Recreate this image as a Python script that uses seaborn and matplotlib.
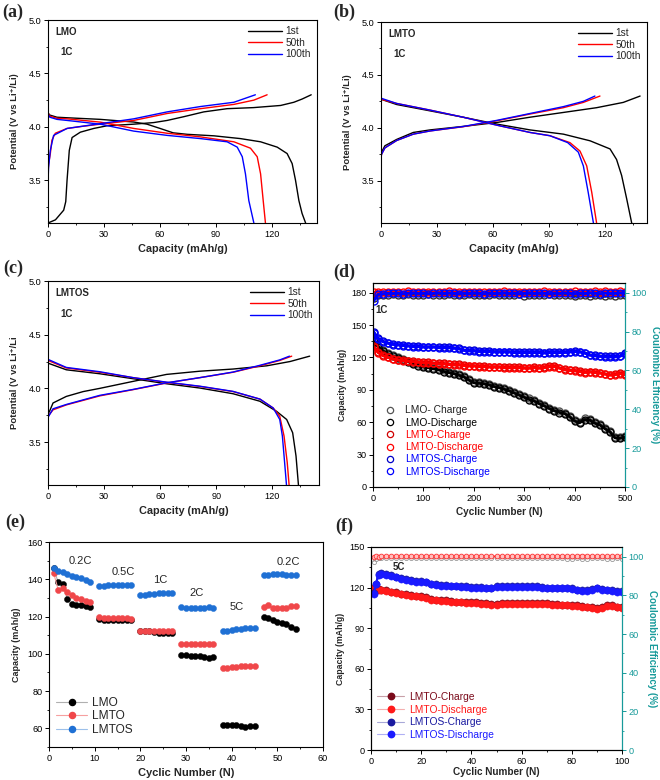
import numpy as np
import pandas as pd
import matplotlib
matplotlib.use("Agg")
import matplotlib.pyplot as plt
from matplotlib.ticker import MultipleLocator
from matplotlib.lines import Line2D
import seaborn as sns

# ---------------- DATA ----------------
# Panel (a) LMO charge/discharge curves (capacity mAh/g, potential V)
a1_chg_x = [0, 4, 8.4, 9.5, 10.2, 11.4, 12.9, 17.3, 24.5, 31.6, 45.9, 56.6, 63.8, 72.7, 83.4, 95.9, 110, 124.5, 131.6, 136, 140.9]
a1_chg_y = [3.10, 3.13, 3.22, 3.30, 3.50, 3.78, 3.90, 3.95, 3.985, 4.01, 4.025, 4.04, 4.06, 4.095, 4.14, 4.17, 4.18, 4.20, 4.23, 4.26, 4.30]
a1_dis_x = [0, 1, 4.8, 10.2, 28, 45.9, 53, 60, 67, 74.5, 88.8, 103, 113.8, 122.7, 128, 130.7, 132.5, 134.3, 136, 137.9]
a1_dis_y = [4.13, 4.11, 4.09, 4.085, 4.07, 4.045, 4.025, 3.985, 3.944, 3.93, 3.916, 3.89, 3.86, 3.81, 3.75, 3.656, 3.50, 3.31, 3.19, 3.10]
a50_chg_x = [0, 0.3, 1.25, 2.1, 3.9, 10.2, 19, 28, 45.9, 63.8, 81.6, 99.5, 110.2, 117.3]
a50_chg_y = [3.55, 3.65, 3.75, 3.875, 3.94, 3.985, 4.006, 4.025, 4.06, 4.125, 4.17, 4.21, 4.25, 4.30]
a50_dis_x = [0, 1, 4.8, 10.2, 28, 45.9, 63.8, 81.6, 99.5, 108.4, 112, 113.8, 115.2, 116.4]
a50_dis_y = [4.13, 4.10, 4.08, 4.075, 4.044, 3.985, 3.94, 3.906, 3.86, 3.80, 3.72, 3.56, 3.31, 3.10]
a100_chg_x = [0, 0.3, 1.25, 3, 10.2, 28, 45.9, 63.8, 81.6, 99.5, 111]
a100_chg_y = [3.48, 3.62, 3.78, 3.92, 3.985, 4.03, 4.075, 4.14, 4.19, 4.23, 4.30]
a100_dis_x = [0, 1, 4.8, 10.2, 28, 45.9, 63.8, 81.6, 95.9, 101.3, 104, 105.7, 107.5, 110.2]
a100_dis_y = [4.12, 4.09, 4.07, 4.06, 4.025, 3.96, 3.92, 3.89, 3.86, 3.81, 3.72, 3.56, 3.31, 3.10]

# Panel (b) LMTO
b1_chg_x = [0, 0.3, 2.1, 8.4, 17.3, 26.3, 44, 62, 79.8, 97.7, 115.5, 129.8, 138.8]
b1_chg_y = [3.74, 3.77, 3.83, 3.89, 3.956, 3.98, 4.013, 4.05, 4.10, 4.145, 4.19, 4.24, 4.30]
b1_dis_x = [0, 8.4, 26.3, 44, 62, 79.8, 97.7, 112, 122.7, 126.2, 128.9, 131.6, 134.3]
b1_dis_y = [4.27, 4.22, 4.16, 4.10, 4.035, 3.98, 3.94, 3.877, 3.80, 3.70, 3.55, 3.33, 3.10]
b50_chg_x = [0, 0.3, 2.1, 8.4, 17.3, 26.3, 44, 62, 79.8, 97.7, 108.4, 117.3]
b50_chg_y = [3.72, 3.75, 3.81, 3.88, 3.94, 3.97, 4.01, 4.066, 4.13, 4.19, 4.24, 4.30]
b50_dis_x = [0, 8.4, 26.3, 44, 62, 79.8, 90.5, 101.2, 106.6, 110.2, 112.9, 115.5]
b50_dis_y = [4.27, 4.23, 4.167, 4.10, 4.025, 3.956, 3.925, 3.86, 3.78, 3.64, 3.39, 3.10]
b100_chg_x = [0, 0.3, 2.1, 8.4, 17.3, 26.3, 44, 62, 79.8, 97.7, 108.4, 114.6]
b100_chg_y = [3.72, 3.75, 3.81, 3.88, 3.94, 3.97, 4.012, 4.07, 4.135, 4.20, 4.25, 4.30]
b100_dis_x = [0, 8.4, 26.3, 44, 62, 79.8, 90.5, 100, 105.7, 108.4, 111, 113.8]
b100_dis_y = [4.28, 4.23, 4.167, 4.10, 4.025, 3.956, 3.925, 3.86, 3.77, 3.64, 3.39, 3.10]

# Panel (c) LMTOS
c1_chg_x = [0, 0.9, 2.7, 9.8, 18.8, 27.7, 45.5, 63.4, 81.3, 99, 117, 129.5, 140]
c1_chg_y = [3.76, 3.79, 3.864, 3.925, 3.97, 4.00, 4.065, 4.13, 4.16, 4.18, 4.21, 4.25, 4.30]
c1_dis_x = [0, 9.8, 27.7, 45.5, 63.4, 81.3, 99, 113.4, 122.3, 127.7, 130.9, 132.7, 134]
c1_dis_y = [4.235, 4.173, 4.136, 4.09, 4.043, 4.003, 3.95, 3.88, 3.786, 3.71, 3.587, 3.37, 3.10]
c50_chg_x = [0, 2.7, 9.8, 27.7, 45.5, 63.4, 81.3, 99, 113.4, 124, 130.4]
c50_chg_y = [3.74, 3.80, 3.846, 3.93, 3.988, 4.05, 4.10, 4.15, 4.21, 4.26, 4.30]
c50_dis_x = [0, 9.8, 27.7, 45.5, 63.4, 81.3, 99, 113.4, 120.5, 124, 126.3, 128, 129]
c50_dis_y = [4.26, 4.19, 4.15, 4.10, 4.056, 4.018, 3.97, 3.90, 3.817, 3.74, 3.556, 3.31, 3.10]
c100_chg_x = [0, 2.7, 9.8, 27.7, 45.5, 63.4, 81.3, 99, 113.4, 124, 129.2]
c100_chg_y = [3.73, 3.81, 3.85, 3.935, 3.99, 4.052, 4.10, 4.152, 4.215, 4.265, 4.30]
c100_dis_x = [0, 9.8, 27.7, 45.5, 63.4, 81.3, 99, 113.4, 120.5, 124, 125.4, 126.6, 127.6]
c100_dis_y = [4.27, 4.195, 4.155, 4.10, 4.058, 4.02, 3.972, 3.90, 3.817, 3.71, 3.556, 3.31, 3.10]

cycle_labels = ["1st", "50th", "100th"]

# Panel (d) long cycling at 1C (sampled cycles)
d_cycles = [1, 10, 20, 30, 40, 50, 60, 70, 80, 90,
            100, 110, 120, 130, 140, 150, 160, 170, 180, 190,
            200, 210, 220, 230, 240, 250, 260, 270, 280, 290,
            300, 310, 320, 330, 340, 350, 360, 370, 380, 390,
            400, 410, 420, 430, 440, 450, 460, 470, 480, 490, 500]
d_lmo_chg = [136, 131, 127, 124, 122, 120.5, 119, 117, 115, 113.5,
             112, 111.5, 110.5, 109.5, 108, 107, 106, 104.5, 103, 100,
             97.5, 97, 96.5, 95.5, 94, 93, 91.5, 90, 88, 86,
             84, 82, 80.5, 78, 76, 73.5, 71.5, 70, 69, 66,
             62, 60.5, 63.5, 63, 60, 58.5, 55, 52, 46.5, 46, 47]
d_lmo_dis = [135, 130, 126, 123, 121, 119.5, 118, 116, 114, 112.5,
             111, 110.5, 109.5, 108.5, 107, 106, 105, 103.5, 102, 99,
             96.5, 96, 95.5, 94.5, 93, 92, 90.5, 89, 87, 85,
             83, 81, 79.5, 77, 75, 72.5, 70.5, 69, 68, 65,
             61, 59.5, 62.5, 62, 59, 57.5, 54, 51, 45.5, 45, 46]
d_lmto_chg = [131, 125, 122, 120.5, 119, 118, 117.5, 117, 116.5, 116,
              115.5, 115.5, 115, 114.5, 114.5, 114, 113.5, 113.5, 113, 112.5,
              112.5, 112, 112, 111.5, 111.5, 111.5, 111, 111, 111, 111,
              110.5, 110.5, 111, 110.5, 111, 112, 112, 110.5, 109, 108.5,
              108, 107.5, 106.5, 107, 106.5, 106, 105, 104, 104.5, 105.5, 105]
d_lmto_dis = [130, 124.5, 121.5, 120, 118.5, 117.5, 117, 116.5, 116, 115.5,
              115, 115, 114.5, 114, 114, 113.5, 113, 113, 112.5, 112,
              112, 111.5, 111.5, 111, 111, 111, 110.5, 110.5, 110.5, 110.5,
              110, 110, 110.5, 110, 110.5, 111.5, 111.5, 110, 108.5, 108,
              107.5, 107, 106, 106.5, 106, 105.5, 104.5, 103.5, 104, 105, 104]
d_lmtos_chg = [144, 138, 135, 133.5, 132.5, 132, 131.5, 131, 130.5, 130.5,
               130, 130, 130, 129.5, 129.5, 129.5, 129, 128.5, 127, 126.5,
               126.5, 126, 126, 126, 125.5, 125.5, 125.5, 125.5, 125, 125,
               125, 125, 125, 125, 124.5, 125, 125, 125, 125, 125.5,
               126, 125.5, 124.5, 122.5, 122, 121.5, 121, 121, 121, 121.5, 124]
d_lmtos_dis = [143, 137, 134.5, 133, 132, 131.5, 131, 130.5, 130, 130,
               129.5, 129.5, 129.5, 129, 129, 129, 128.5, 128, 126.5, 126,
               126, 125.5, 125.5, 125.5, 125, 125, 125, 125, 124.5, 124.5,
               124.5, 124.5, 124.5, 124.5, 124, 124.5, 124.5, 124.5, 124.5, 125,
               125.5, 125, 124, 122, 121.5, 121, 120.5, 120.5, 120.5, 121, 123.5]
d_lmo_eff = [97.5, 98.6, 99.0, 98.8, 99.2, 99.0, 98.7, 99.1, 98.9, 99.0,
             98.8, 99.2, 98.6, 99.0, 98.9, 99.1, 98.7, 99.0, 98.8, 99.2,
             98.9, 98.6, 99.0, 98.8, 99.1, 98.9, 98.7, 99.0, 98.8, 99.1,
             98.5, 98.9, 99.0, 98.7, 98.9, 99.1, 98.6, 98.9, 98.8, 99.0,
             98.4, 98.9, 98.7, 98.3, 98.8, 98.6, 98.2, 98.7, 98.5, 98.9, 98.6]
d_lmto_eff = [100.2, 100.4, 100.5, 100.3, 100.6, 100.4, 100.3, 100.7, 100.4, 100.5,
              100.3, 100.6, 100.4, 100.2, 100.5, 100.7, 100.3, 100.5, 100.4, 100.6,
              100.3, 100.5, 100.2, 100.6, 100.4, 100.5, 100.7, 100.3, 100.5, 100.4,
              100.6, 100.3, 100.5, 100.4, 100.7, 100.3, 100.5, 100.6, 100.4, 100.5,
              100.8, 100.4, 100.6, 100.3, 100.7, 100.5, 100.9, 100.4, 100.6, 100.7, 100.5]
d_lmtos_eff = [95.5, 99.2, 99.5, 99.7, 99.6, 99.8, 99.5, 99.7, 99.9, 99.6,
               99.8, 99.5, 99.7, 99.9, 99.6, 99.8, 99.7, 99.5, 99.8, 99.6,
               99.9, 99.7, 99.5, 99.8, 99.6, 99.7, 99.9, 99.6, 99.8, 99.5,
               99.7, 99.9, 99.6, 99.8, 99.7, 99.5, 99.8, 99.6, 99.9, 99.7,
               99.5, 99.8, 99.6, 99.9, 99.7, 99.5, 99.8, 99.6, 99.7, 99.9, 100.0]
d_labels = ["LMO- Charge", "LMO-Discharge", "LMTO-Charge", "LMTO-Discharge",
            "LMTOS-Charge", "LMTOS-Discharge"]

# Panel (e) rate capability
e_rates = ["0.2C", "0.5C", "1C", "2C", "5C", "0.2C"]
e_cycles = [1, 2, 3, 4, 5, 6, 7, 8, 9,
            11, 12, 13, 14, 15, 16, 17, 18,
            20, 21, 22, 23, 24, 25, 26, 27,
            29, 30, 31, 32, 33, 34, 35, 36,
            38, 39, 40, 41, 42, 43, 44, 45,
            47, 48, 49, 50, 51, 52, 53, 54]
e_step = [0] * 9 + [1] * 8 + [2] * 8 + [3] * 8 + [4] * 8 + [5] * 8
e_lmo = [146, 138.5, 137.5, 129.5, 126.5, 126, 126, 125.5, 125,
         118.5, 118.3, 118.3, 118.2, 118.2, 118.2, 118.1, 118,
         112, 112, 112, 111.5, 111, 111, 111, 111.3,
         99.6, 99.3, 99, 98.8, 98.6, 98.4, 98, 98.2,
         62, 61.8, 61.7, 61.6, 61.4, 61, 61.2, 61.1,
         120, 119.3, 118.2, 117.3, 116.6, 116, 114.5, 113.5]
e_lmto = [143.5, 134.5, 135.5, 133, 131.5, 130, 129.5, 128.5, 128,
          119.5, 119.2, 119, 119, 119, 119.2, 119, 118.7,
          112.3, 112.3, 112.5, 112.5, 112.5, 112.3, 112.5, 112.5,
          105.3, 105.3, 105.3, 105.3, 105.3, 105.3, 105.3, 105.3,
          92.3, 92.5, 92.8, 93, 93.2, 93.4, 93.5, 93.6,
          125.2, 126, 124.8, 124.5, 124.5, 124.5, 125.5, 125.8]
e_lmtos = [146, 144.5, 144, 143, 142, 141, 140.5, 139.5, 138.3,
           136.5, 136.5, 136.7, 136.8, 136.8, 137, 136.8, 136.8,
           131.6, 131.8, 132, 132.3, 132.6, 132.8, 132.8, 132.8,
           125, 124.8, 124.6, 124.5, 124.5, 124.7, 125.2, 124.6,
           112.2, 112.5, 113, 113.2, 113.4, 113.6, 113.8, 113.7,
           142.5, 142.5, 142.6, 143, 142.6, 142.5, 142.5, 142.5]
e_labels = ["LMO", "LMTO", "LMTOS"]

# Panel (f) long cycling at 5C
f_cycles = [1, 2, 3, 4,
            6, 8, 10, 12, 14, 16, 18, 20, 22, 24,
            26, 28, 30, 32, 34, 36, 38, 40, 42, 44,
            46, 48, 50, 52, 54, 56, 58, 60, 62, 64,
            66, 68, 70, 72, 74, 76, 78, 80, 82, 84,
            86, 88, 90, 92, 94, 96, 98, 100]
f_lmto_chg = [120, 119.5, 119, 118.5,
              118, 117, 116.5, 115.5, 115, 114.5, 114, 113.5, 113, 111.5,
              111, 110.5, 110.5, 110, 109.5, 109.5, 109, 109, 109, 108.5,
              108.5, 108, 108, 108.5, 108.5, 108.5, 108.5, 108.5, 108.5, 108.5,
              108.5, 108.5, 108.5, 108, 108, 107.5, 107.5, 107, 107, 106.5,
              106, 105.5, 105, 105.5, 107, 107, 106, 105.5]
f_lmto_dis = [119.5, 119, 118.5, 118,
              117.5, 116.5, 116, 115, 114.5, 114, 113.5, 113, 112.5, 111,
              110.5, 110, 110, 109.5, 109, 109, 108.5, 108.5, 108.5, 108,
              108, 107.5, 107.5, 108, 108, 108, 108, 108, 108, 108,
              108, 108, 108, 107.5, 107.5, 107, 107, 106.5, 106.5, 106,
              105.5, 105, 104.5, 105, 106.5, 106.5, 105.5, 105]
f_lmtos_chg = [116, 123, 130, 130.5,
               130, 129, 128, 127, 126, 125.5, 125, 125, 124.5, 123,
               122.5, 122, 122, 121.5, 121.5, 121, 121, 120.5, 120.5, 120.5,
               120, 120, 121, 121, 121, 121, 121, 121, 121, 121,
               121, 120.5, 120, 120, 120, 120, 120, 119.5, 118.5, 118,
               118, 119, 120, 119, 118.5, 118, 117.5, 117.5]
f_lmtos_dis = [115, 122.5, 129.5, 130,
               129.5, 128.5, 127.5, 126.5, 125.5, 125, 124.5, 124.5, 124, 122.5,
               122, 121.5, 121.5, 121, 121, 120.5, 120.5, 120, 120, 120,
               119.5, 119.5, 120.5, 120.5, 120.5, 120.5, 120.5, 120.5, 120.5, 120.5,
               120.5, 120, 119.5, 119.5, 119.5, 119.5, 119.5, 119, 118, 117.5,
               117.5, 118.5, 119.5, 118.5, 118, 117.5, 117, 117]
f_lmto_eff = [99.8, 100.3, 100.0, 100.2,
              100.3, 100.1, 100.2, 100.4, 100.2, 100.3, 100.1, 100.2, 100.4, 100.2,
              100.3, 100.1, 100.2, 100.3, 100.2, 100.4, 100.1, 100.3, 100.2, 100.2,
              100.3, 100.1, 100.2, 100.4, 100.2, 100.3, 100.2, 100.1, 100.3, 100.2,
              100.4, 100.2, 100.3, 100.1, 100.2, 100.5, 100.3, 100.2, 100.4, 100.6,
              100.5, 100.3, 100.2, 100.3, 100.1, 100.2, 100.3, 100.2]
f_lmtos_eff = [97.5, 98.8, 99.2, 99.4,
               99.3, 99.5, 99.2, 99.4, 99.3, 99.1, 99.4, 99.3, 99.5, 99.2,
               99.4, 99.3, 99.1, 99.4, 99.3, 99.5, 99.2, 99.3, 99.4, 99.2,
               99.3, 99.5, 99.2, 99.4, 99.3, 99.1, 99.4, 99.3, 99.2, 99.5,
               99.3, 99.4, 99.2, 99.3, 99.5, 99.2, 99.0, 98.9, 99.1, 98.8,
               99.0, 99.2, 99.1, 99.3, 99.0, 98.9, 99.1, 99.0]
f_labels = ["LMTO-Charge", "LMTO-Discharge", "LMTOS-Charge", "LMTOS-Discharge"]

# ---------------- STYLE ----------------
sns.set_theme(style="ticks", rc={
    "axes.edgecolor": "black", "axes.linewidth": 0.8,
    "xtick.color": "black", "ytick.color": "black",
    "axes.facecolor": "white", "figure.facecolor": "white",
})
plt.rcParams["font.family"] = ["Liberation Sans", "DejaVu Sans"]

TEAL = "#179a9a"
W, H = 660, 780
fig = plt.figure(figsize=(6.6, 7.8), dpi=100)


def box(l, t, r, b):
    return [l / W, 1 - b / H, (r - l) / W, (b - t) / H]


def style_ticks(ax, labelsize=6.6):
    ax.tick_params(axis="both", which="major", direction="out", length=2.8, width=0.7,
                   labelsize=labelsize, pad=2, top=False, right=False)
    ax.tick_params(axis="both", which="minor", direction="out", length=1.6, width=0.6,
                   top=False, right=False)


def volt_panel(ax, curves, xmax, name, ylabel, leg_anchor):
    colors = ["black", "#ff0000", "#0000ff"]
    for lab, col, (cx, cy, dx, dy) in zip(cycle_labels, colors, curves):
        sns.lineplot(x=cx, y=cy, sort=False, estimator=None, color=col, lw=1.0, ax=ax, label=lab)
        sns.lineplot(x=dx, y=dy, sort=False, estimator=None, color=col, lw=1.0, ax=ax)
    ax.set_xlim(0, xmax)
    ax.set_ylim(3.1, 5.0)
    ax.xaxis.set_major_locator(MultipleLocator(30))
    ax.xaxis.set_minor_locator(MultipleLocator(15))
    ax.yaxis.set_major_locator(MultipleLocator(0.5))
    ax.yaxis.set_minor_locator(MultipleLocator(0.25))
    ax.set_yticks([3.5, 4.0, 4.5, 5.0])
    style_ticks(ax)
    ax.set_xlabel("Capacity (mAh/g)", fontsize=7.8, fontweight="bold", labelpad=4)
    ax.set_ylabel(ylabel, fontsize=6.8, fontweight="bold", labelpad=7)
    ax.text(0.027, 0.94, name, transform=ax.transAxes, fontsize=7, fontweight="bold",
            va="center", ha="left")
    ax.text(0.045, 0.84, "1C", transform=ax.transAxes, fontsize=7, fontweight="bold",
            va="center", ha="left")
    ax.legend(loc="upper right", bbox_to_anchor=leg_anchor, frameon=False, fontsize=7.3,
              handlelength=3.4, handletextpad=0.3, labelspacing=0.15, borderaxespad=0.2)


# (a)
axa = fig.add_axes(box(48, 20, 317, 223))
volt_panel(axa, [(a1_chg_x, a1_chg_y, a1_dis_x, a1_dis_y),
                 (a50_chg_x, a50_chg_y, a50_dis_x, a50_dis_y),
                 (a100_chg_x, a100_chg_y, a100_dis_x, a100_dis_y)],
           144, "LMO", "Potential (V vs Li⁺/Li)", (1.0, 1.0))
# (b)
axb = fig.add_axes(box(381, 22, 647, 223))
volt_panel(axb, [(b1_chg_x, b1_chg_y, b1_dis_x, b1_dis_y),
                 (b50_chg_x, b50_chg_y, b50_dis_x, b50_dis_y),
                 (b100_chg_x, b100_chg_y, b100_dis_x, b100_dis_y)],
           142.5, "LMTO", "Potential (V vs Li⁺/Li)", (1.0, 1.0))
# (c)
axc = fig.add_axes(box(48, 281, 319, 485))
volt_panel(axc, [(c1_chg_x, c1_chg_y, c1_dis_x, c1_dis_y),
                 (c50_chg_x, c50_chg_y, c50_dis_x, c50_dis_y),
                 (c100_chg_x, c100_chg_y, c100_dis_x, c100_dis_y)],
           145, "LMTOS", "Potential (V vs Li⁺/Li", (1.0, 1.0))

# (d)
axd = fig.add_axes(box(373, 283, 625, 487))
axd2 = axd.twinx()
d_cols = ["#555555", "black", "#d00000", "#ff0000", "#0000c8", "#0000ff"]
d_series = [d_lmo_chg, d_lmo_dis, d_lmto_chg, d_lmto_dis, d_lmtos_chg, d_lmtos_dis]
for ys, col in zip(d_series, d_cols):
    sns.lineplot(x=d_cycles, y=ys, sort=False, estimator=None, ax=axd, lw=2.0, color=col,
                 marker="o", ms=5.0, mfc="none", mec=col, mew=1.0, legend=False)
for ys, col in zip([d_lmo_eff, d_lmto_eff, d_lmtos_eff], ["#333333", "#ff0000", "#0000ff"]):
    sns.lineplot(x=d_cycles, y=ys, sort=False, estimator=None, ax=axd2, lw=2.0, color=col,
                 marker="o", ms=5.0, mfc="none", mec=col, mew=1.0, legend=False)
axd.set_xlim(0, 500)
axd.set_ylim(0, 189)
axd2.set_ylim(0, 105)
axd.xaxis.set_major_locator(MultipleLocator(100))
axd.xaxis.set_minor_locator(MultipleLocator(50))
axd.yaxis.set_major_locator(MultipleLocator(30))
axd.yaxis.set_minor_locator(MultipleLocator(15))
axd2.yaxis.set_major_locator(MultipleLocator(20))
axd2.yaxis.set_minor_locator(MultipleLocator(10))
style_ticks(axd)
axd2.tick_params(axis="y", which="major", direction="out", length=2.8, width=0.7,
                 labelsize=6.6, pad=2, colors=TEAL)
axd2.tick_params(axis="y", which="minor", direction="out", length=1.6, width=0.6, colors=TEAL)
axd2.spines["right"].set_color(TEAL)
axd.spines["right"].set_color(TEAL)
axd.set_xlabel("Cyclic Number (N)", fontsize=7.2, fontweight="bold", labelpad=3)
axd.set_ylabel("Capacity (mAh/g)", fontsize=6.3, fontweight="bold", labelpad=3)
axd2.set_ylabel("Coulombic Efficiency (%)", fontsize=7, fontweight="bold", color=TEAL,
                rotation=270, labelpad=9)
axd.text(5, 164, "1C", fontsize=7, fontweight="bold", va="center", ha="left")
d_handles = [Line2D([], [], linestyle="", marker="o", ms=4.5, mfc="none", mec=c, mew=0.9)
             for c in d_cols]
d_text_cols = ["#222222", "black", "#ff0000", "#ff0000", "#0000ff", "#0000ff"]
axd.legend(d_handles, d_labels, loc="lower left", bbox_to_anchor=(0.02, 0.02), frameon=False,
           fontsize=7.4, labelcolor=d_text_cols, handletextpad=0.8, labelspacing=0.22,
           borderaxespad=0.2, handlelength=1.2)

# (e)
axe = fig.add_axes(box(49, 542, 323, 747))
e_cols = ["black", "#f0474a", "#1f70d4"]
e_light = ["#b0b0b0", "#f6a0a0", "#9cc0ea"]
for ys, col, lcol in zip([e_lmo, e_lmto, e_lmtos], e_cols, e_light):
    df = pd.DataFrame({"cycle": e_cycles, "cap": ys, "step": e_step})
    sns.lineplot(data=df, x="cycle", y="cap", units="step", estimator=None, sort=False, ax=axe,
                 color=lcol, lw=0.8, marker="o", ms=4.4, mfc=col, mec=col, mew=0.3, legend=False)
rate_pos = [(6.8, 150), (16.3, 143.8), (24.3, 139.7), (32.3, 132.8), (41.1, 125), (52.5, 149.4)]
for txt, (xx, yy) in zip(e_rates, rate_pos):
    axe.text(xx, yy, txt, fontsize=8, ha="center", va="center")
axe.set_xlim(0, 60)
axe.set_ylim(50, 160)
axe.xaxis.set_major_locator(MultipleLocator(10))
axe.xaxis.set_minor_locator(MultipleLocator(5))
axe.yaxis.set_major_locator(MultipleLocator(20))
axe.yaxis.set_minor_locator(MultipleLocator(10))
axe.set_yticks([60, 80, 100, 120, 140, 160])
style_ticks(axe)
axe.set_xlabel("Cyclic Number (N)", fontsize=8, fontweight="bold", labelpad=4)
axe.set_ylabel("Capacity (mAh/g)", fontsize=6.5, fontweight="bold", labelpad=4)
e_handles = [Line2D([], [], color=lc, lw=0.8, marker="o", ms=4.4, mfc=c, mec=c)
             for c, lc in zip(e_cols, e_light)]
axe.legend(e_handles, e_labels, loc="lower left", bbox_to_anchor=(0.0, 0.02), frameon=False,
           fontsize=8.6, handlelength=2.6, handletextpad=0.4, labelspacing=0.12,
           borderaxespad=0.2)

# (f)
axf = fig.add_axes(box(371, 547, 622, 750))
axf2 = axf.twinx()
f_cols = ["#7a0a1a", "#ff1a1a", "#1a1aa0", "#1a1aff"]
f_light = ["#c8a0a8", "#f4b0b0", "#a8a8d8", "#b0b0f4"]
for ys, col in zip([f_lmto_chg, f_lmto_dis, f_lmtos_chg, f_lmtos_dis], f_cols):
    sns.lineplot(x=f_cycles, y=ys, sort=False, estimator=None, ax=axf, color=col, lw=1.5,
                 marker="o", ms=5.2, mfc=col, mec=col, mew=0.3, legend=False)
sns.lineplot(x=f_cycles, y=f_lmtos_eff, sort=False, estimator=None, ax=axf2, color="#aaaaaa",
             lw=0.8, marker="o", ms=3.0, mfc="none", mec="#999999", mew=0.6, legend=False)
sns.lineplot(x=f_cycles, y=f_lmto_eff, sort=False, estimator=None, ax=axf2, color="#ff2020",
             lw=1.2, marker="o", ms=3.4, mfc="#ffc0c0", mec="#ff3030", mew=0.6, legend=False)
axf.set_xlim(0, 100)
axf.set_ylim(0, 150)
axf2.set_ylim(0, 105)
axf.xaxis.set_major_locator(MultipleLocator(20))
axf.xaxis.set_minor_locator(MultipleLocator(10))
axf.yaxis.set_major_locator(MultipleLocator(30))
axf.yaxis.set_minor_locator(MultipleLocator(15))
axf2.yaxis.set_major_locator(MultipleLocator(20))
axf2.yaxis.set_minor_locator(MultipleLocator(10))
style_ticks(axf)
axf2.tick_params(axis="y", which="major", direction="out", length=2.8, width=0.7,
                 labelsize=6.6, pad=2, colors=TEAL)
axf2.tick_params(axis="y", which="minor", direction="out", length=1.6, width=0.6, colors=TEAL)
axf2.spines["right"].set_color(TEAL)
axf.spines["right"].set_color(TEAL)
axf.set_xlabel("Cyclic Number (N)", fontsize=7.2, fontweight="bold", labelpad=1)
axf.set_ylabel("Capacity (mAh/g)", fontsize=6.3, fontweight="bold", labelpad=3)
axf2.set_ylabel("Coulombic Efficiency (%)", fontsize=7, fontweight="bold", color=TEAL,
                rotation=270, labelpad=9)
axf.text(8.8, 135, "5C", fontsize=7, fontweight="bold", va="center", ha="left")
f_handles = [Line2D([], [], color=lc, lw=0.8, marker="o", ms=4.6, mfc=c, mec=c)
             for c, lc in zip(f_cols, f_light)]
axf.legend(f_handles, f_labels, loc="lower left", bbox_to_anchor=(0.0, 0.02), frameon=False,
           fontsize=7.4, labelcolor=f_cols, handlelength=2.6, handletextpad=0.5,
           labelspacing=0.25, borderaxespad=0.2)

# panel letters
for txt, x, y in [("(a)", 2, 12), ("(b)", 333, 12), ("(c)", 3, 268),
                  ("(d)", 333, 272), ("(e)", 5, 522), ("(f)", 335, 526)]:
    fig.text(x / W, 1 - y / H, txt, fontsize=13, fontweight="bold",
             family=["Liberation Serif", "DejaVu Serif"], ha="left", va="center")

fig.savefig("out.png", dpi=100)
